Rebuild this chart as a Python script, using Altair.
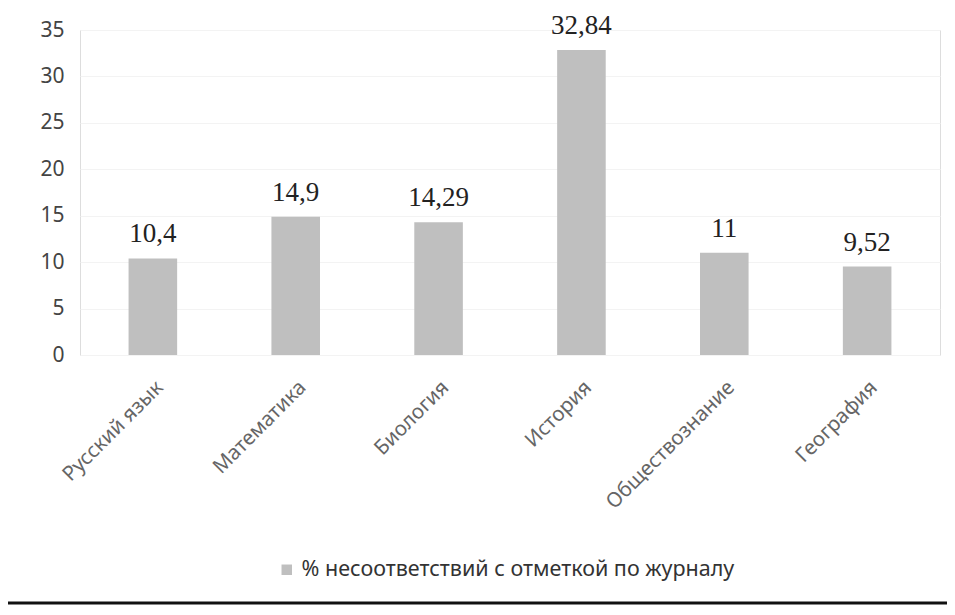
import altair as alt
import pandas as pd

subjects = ["Русский язык", "Математика", "Биология", "История", "Обществознание", "География"]
values = [10.4, 14.9, 14.29, 32.84, 11, 9.52]
value_labels = ["10,4", "14,9", "14,29", "32,84", "11", "9,52"]
series_name = "% несоответствий с отметкой по журналу"
y_ticks = [0, 5, 10, 15, 20, 25, 30, 35]

df = pd.DataFrame({
    "subject": subjects,
    "value": values,
    "label": value_labels,
    "series": [series_name] * len(subjects),
})

x_enc = alt.X(
    "subject:N", sort=subjects, title=None,
    scale=alt.Scale(paddingInner=0.66, paddingOuter=0.34),
    axis=alt.Axis(labelAngle=-45, labelFont="Noto Sans", labelFontSize=20.5,
                  labelColor="#666666", domain=False, ticks=False, labelPadding=22),
)
y_enc = alt.Y(
    "value:Q", title=None,
    scale=alt.Scale(domain=[0, 35], nice=False),
    axis=alt.Axis(values=y_ticks, domain=False, ticks=False, labelFont="Noto Sans",
                  labelFontSize=21, labelColor="#444444", labelPadding=16,
                  gridColor="#f3f3f3"),
)

base = alt.Chart(df)

bars = base.mark_bar(color="#bfbfbf").encode(
    x=x_enc, y=y_enc,
    color=alt.Color("series:N", title=None,
                    scale=alt.Scale(range=["#bfbfbf"]),
                    legend=alt.Legend(orient="none", legendX=196, legendY=529,
                                      symbolType="square", symbolSize=110,
                                      symbolStrokeWidth=0,
                                      labelFont="Noto Sans", labelFontSize=21.5,
                                      labelColor="#333333", labelLimit=700)),
)

texts = base.mark_text(baseline="bottom", dy=-10, font="Liberation Serif",
                       fontSize=27, color="#222222").encode(
    x=x_enc, y=y_enc, text="label:N"
)

rule = alt.Chart(pd.DataFrame({"a": [0]})).mark_rule(color="#111111", strokeWidth=3).encode(
    x=alt.value(-72), x2=alt.value(883), y=alt.value(573)
)

chart = alt.layer(bars, texts, rule).properties(
    width=860, height=325,
    autosize=alt.AutoSizeParams(type="none"),
    padding={"left": 72, "top": 22, "right": 7, "bottom": 250},
).configure_view(stroke=None).configure(background="white")

chart.save("out.html", embed_options={"renderer": "svg", "actions": False})
